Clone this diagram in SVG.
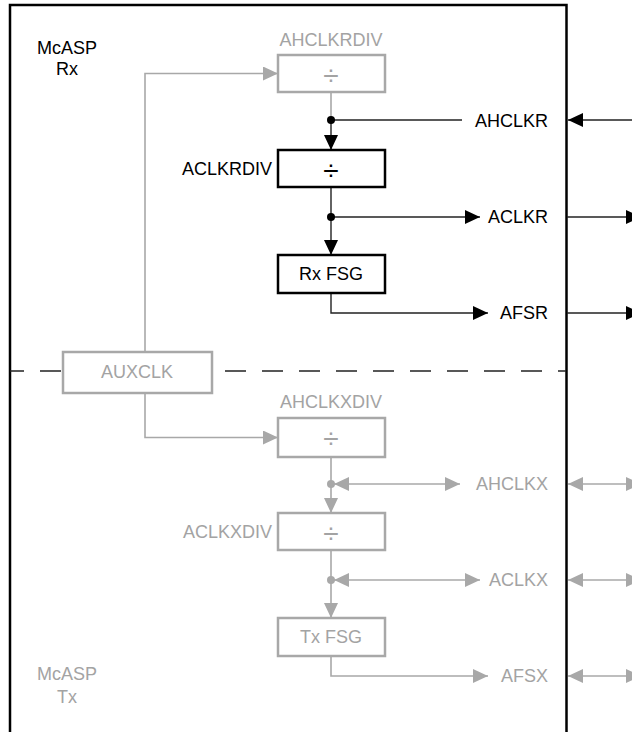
<svg xmlns="http://www.w3.org/2000/svg" width="632" height="732" viewBox="0 0 632 732">
<style>
text{font-family:"Liberation Sans",Arial,sans-serif;font-size:18px}
.k{fill:#000}
.g{fill:#a3a3a3}
.mid{text-anchor:middle}
.end{text-anchor:end}
.div{font-size:28px}
.bk{fill:#fff;stroke:#000;stroke-width:2.5}
.bg{fill:#fff;stroke:#a8a8a8;stroke-width:2.5}
.lk{fill:none;stroke:#222;stroke-width:1.4}
.lg{fill:none;stroke:#a8a8a8;stroke-width:1.6}
</style>
<defs>
<marker id="ak" markerUnits="userSpaceOnUse" markerWidth="15" markerHeight="14" refX="15" refY="7" orient="auto-start-reverse" viewBox="0 0 15 14"><path d="M0,0 L15,7 L0,14 Z" fill="#000"/></marker>
<marker id="ag" markerUnits="userSpaceOnUse" markerWidth="15" markerHeight="14" refX="15" refY="7" orient="auto-start-reverse" viewBox="0 0 15 14"><path d="M0,0 L15,7 L0,14 Z" fill="#a8a8a8"/></marker>
</defs>
<rect width="632" height="732" fill="#fff"/>
<g id="frame">
<path d="M10,740 V5 H566.5 V740" fill="none" stroke="#000" stroke-width="2.5"/>
<path d="M10,371 H566" fill="none" stroke="#222" stroke-width="1.4" stroke-dasharray="21 16" stroke-dashoffset="7"/>
<text class="k mid" x="67" y="54">McASP</text>
<text class="k mid" x="67" y="75">Rx</text>
<text class="g mid" x="67" y="680">McASP</text>
<text class="g mid" x="67" y="703">Tx</text>
</g>
<g id="connectors">
<path class="lg" d="M145,352 V73.5 H278" marker-end="url(#ag)"/>
<path class="lg" d="M145,393 V437.5 H278" marker-end="url(#ag)"/>
<path class="lg" d="M331,92 V120"/>
<path class="lk" d="M331,120 V150" marker-end="url(#ak)"/>
<path class="lk" d="M331,120 H462"/>
<path class="lk" d="M331,187 V255" marker-end="url(#ak)"/>
<path class="lk" d="M331,217 H480" marker-end="url(#ak)"/>
<path class="lk" d="M331,293 V313 H488" marker-end="url(#ak)"/>
<path class="lk" d="M632,120 H568" marker-end="url(#ak)"/>
<path class="lk" d="M567,217 H641" marker-end="url(#ak)"/>
<path class="lk" d="M567,313 H641" marker-end="url(#ak)"/>
<circle cx="331" cy="120" r="4" fill="#000"/>
<circle cx="331" cy="217" r="4" fill="#000"/>
<path class="lg" d="M331,457 V513" marker-end="url(#ag)"/>
<path class="lg" d="M334,484 H460" marker-start="url(#ag)" marker-end="url(#ag)"/>
<path class="lg" d="M331,550 V618" marker-end="url(#ag)"/>
<path class="lg" d="M334,580 H480" marker-start="url(#ag)" marker-end="url(#ag)"/>
<path class="lg" d="M331,656 V676 H488" marker-end="url(#ag)"/>
<path class="lg" d="M568,484 H641" marker-start="url(#ag)" marker-end="url(#ag)"/>
<path class="lg" d="M568,580 H641" marker-start="url(#ag)" marker-end="url(#ag)"/>
<path class="lg" d="M568,676 H641" marker-start="url(#ag)" marker-end="url(#ag)"/>
<circle cx="331" cy="484" r="4" fill="#a8a8a8"/>
<circle cx="331" cy="580" r="4" fill="#a8a8a8"/>
<text class="k end" x="548" y="127">AHCLKR</text>
<text class="k end" x="548" y="223">ACLKR</text>
<text class="k end" x="548" y="319">AFSR</text>
<text class="g end" x="548" y="490">AHCLKX</text>
<text class="g end" x="548" y="586">ACLKX</text>
<text class="g end" x="548" y="682">AFSX</text>
</g>
<g id="ahclkrdiv">
<rect class="bg" x="278" y="55" width="107" height="37"/>
<text class="g mid" x="331" y="46">AHCLKRDIV</text>
<text class="g mid div" x="331" y="85">÷</text>
</g>
<g id="aclkrdiv">
<rect class="bk" x="278" y="150" width="107" height="37"/>
<text class="k end" x="272" y="175">ACLKRDIV</text>
<text class="k mid div" x="331" y="180">÷</text>
</g>
<g id="rxfsg">
<rect class="bk" x="278" y="255" width="107" height="38"/>
<text class="k mid" x="331" y="280">Rx FSG</text>
</g>
<g id="auxclk">
<rect class="bg" x="63" y="352" width="149" height="41"/>
<text class="g mid" x="137" y="378">AUXCLK</text>
</g>
<g id="ahclkxdiv">
<rect class="bg" x="278" y="418" width="107" height="39"/>
<text class="g mid" x="331" y="408">AHCLKXDIV</text>
<text class="g mid div" x="331" y="448">÷</text>
</g>
<g id="aclkxdiv">
<rect class="bg" x="278" y="513" width="107" height="37"/>
<text class="g end" x="272" y="538">ACLKXDIV</text>
<text class="g mid div" x="331" y="543">÷</text>
</g>
<g id="txfsg">
<rect class="bg" x="278" y="618" width="107" height="38"/>
<text class="g mid" x="331" y="643">Tx FSG</text>
</g>
</svg>
